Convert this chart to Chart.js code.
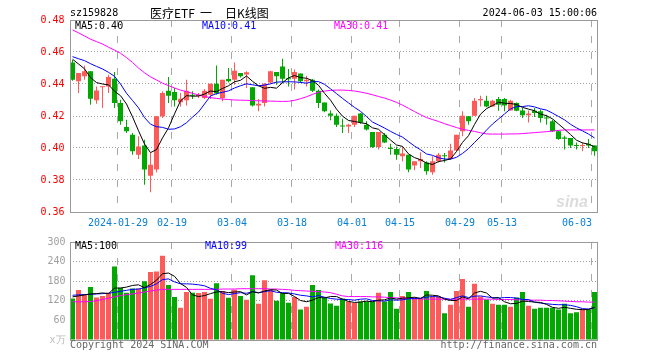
<!DOCTYPE html>
<html><head><meta charset="utf-8">
<script src="https://cdn.jsdelivr.net/npm/chart.js@4"></script>
<style>
html,body{margin:0;padding:0;background:#fff;}
#wrap{position:relative;width:660px;height:360px;overflow:hidden;font-family:'DejaVu Sans Mono',monospace;font-size:10px;}
canvas{position:absolute;left:0;}
.t{position:absolute;white-space:pre;line-height:12px;}
.cjk{font-family:'Noto Sans CJK SC',sans-serif;font-size:12px;line-height:14px;color:#000;}
</style></head><body>
<div id="wrap">
<canvas id="k" width="660" height="232" style="top:0;width:660px;height:232px"></canvas>
<canvas id="v" width="660" height="128" style="top:232px;width:660px;height:128px"></canvas>
<div class="t" style="left:70px;top:7px;color:#000">sz159828</div>
<div class="t cjk" style="left:150px;top:6px">医疗ETF</div>
<div class="t cjk" style="left:200px;top:6px">一</div>
<div class="t cjk" style="left:225px;top:6px">日K线图</div>
<div class="t" style="right:63px;top:7px;color:#000">2024-06-03 15:00:06</div>
<div class="t" style="left:75px;top:20px;color:#000">MA5:0.40</div>
<div class="t" style="left:202px;top:20px;color:#0000ff">MA10:0.41</div>
<div class="t" style="left:334px;top:20px;color:#ff00ff">MA30:0.41</div>
<div class="t" style="left:556px;top:193px;font:italic bold 16px 'Liberation Sans',sans-serif;color:#dcdcdc">sina</div>
<div class="t" style="left:75px;top:240px;color:#000">MA5:100</div>
<div class="t" style="left:205px;top:240px;color:#0000ff">MA10:99</div>
<div class="t" style="left:335px;top:240px;color:#ff00ff">MA30:116</div>
<div class="t" style="left:70px;top:339px;color:#666">Copyright 2024 SINA.COM</div>
<div class="t" style="right:63px;top:339px;color:#666">http://finance.sina.com.cn</div>
</div>
<script>
const dates = ['2024-01-17','2024-01-18','2024-01-19','2024-01-22','2024-01-23','2024-01-24','2024-01-25','2024-01-26','2024-01-29','2024-01-30','2024-01-31','2024-02-01','2024-02-02','2024-02-05','2024-02-06','2024-02-07','2024-02-08','2024-02-19','2024-02-20','2024-02-21','2024-02-22','2024-02-23','2024-02-26','2024-02-27','2024-02-28','2024-02-29','2024-03-01','2024-03-04','2024-03-05','2024-03-06','2024-03-07','2024-03-08','2024-03-11','2024-03-12','2024-03-13','2024-03-14','2024-03-15','2024-03-18','2024-03-19','2024-03-20','2024-03-21','2024-03-22','2024-03-25','2024-03-26','2024-03-27','2024-03-28','2024-03-29','2024-04-01','2024-04-02','2024-04-03','2024-04-08','2024-04-09','2024-04-10','2024-04-11','2024-04-12','2024-04-15','2024-04-16','2024-04-17','2024-04-18','2024-04-19','2024-04-22','2024-04-23','2024-04-24','2024-04-25','2024-04-26','2024-04-29','2024-04-30','2024-05-06','2024-05-07','2024-05-08','2024-05-09','2024-05-10','2024-05-13','2024-05-14','2024-05-15','2024-05-16','2024-05-17','2024-05-20','2024-05-21','2024-05-22','2024-05-23','2024-05-24','2024-05-27','2024-05-28','2024-05-29','2024-05-30','2024-05-31','2024-06-03'];

const tickDates = ['2024-01-29','2024-02-19','2024-03-04','2024-03-18','2024-04-01','2024-04-15','2024-04-29','2024-05-13','2024-06-03'];
const tickLabels = ['2024-01-29','02-19','03-04','03-18','04-01','04-15','04-29','05-13','06-03'];

const opens = [.4535,.4417,.4448,.4479,.4298,.4379,.4385,.4433,.4281,.4131,.4083,.3958,.4015,.3827,.3865,.4198,.4358,.4350,.4286,.4298,.4331,.4323,.4313,.4333,.4402,.4313,.4431,.4427,.4469,.4459,.4379,.4265,.4281,.4410,.4475,.4510,.4435,.4433,.4465,.4417,.4427,.4358,.4285,.4215,.4202,.4140,.4135,.4146,.4215,.4146,.4100,.4006,.4083,.4002,.3994,.3948,.3958,.3890,.3917,.3910,.3848,.3917,.3952,.3931,.3985,.4104,.4198,.4202,.4298,.4296,.4260,.4306,.4306,.4235,.4281,.4235,.4204,.4233,.4229,.4190,.4167,.4104,.4065,.4062,.4017,.4012,.4027,.4015];
const highs = [.4550,.4469,.4515,.4479,.4385,.4385,.4458,.4475,.4302,.4177,.4094,.4073,.4052,.3969,.4198,.4354,.4444,.4375,.4344,.4427,.4354,.4344,.4369,.4402,.4515,.4427,.4500,.4535,.4469,.4479,.4379,.4306,.4406,.4483,.4475,.4558,.4494,.4490,.4465,.4452,.4431,.4365,.4285,.4235,.4215,.4183,.4152,.4202,.4219,.4167,.4100,.4100,.4094,.4027,.4010,.4010,.3958,.3917,.3973,.3917,.3948,.3969,.3969,.4027,.4083,.4229,.4198,.4313,.4327,.4327,.4302,.4319,.4313,.4302,.4285,.4250,.4235,.4250,.4240,.4208,.4177,.4110,.4077,.4062,.4035,.4035,.4056,.4015];
const lows = [.4420,.4344,.4427,.4271,.4277,.4250,.4344,.4250,.4146,.4094,.3958,.3931,.3771,.3723,.3848,.4188,.4281,.4260,.4260,.4265,.4306,.4313,.4306,.4306,.4333,.4292,.4410,.4396,.4440,.4375,.4260,.4229,.4260,.4402,.4396,.4406,.4385,.4365,.4406,.4385,.4350,.4250,.4223,.4173,.4131,.4094,.4094,.4131,.4152,.4110,.4000,.3990,.4031,.3958,.3927,.3917,.3848,.3861,.3875,.3833,.3833,.3910,.3910,.3927,.3979,.4073,.4146,.4202,.4260,.4254,.4260,.4233,.4229,.4235,.4229,.4188,.4160,.4194,.4160,.4146,.4100,.4052,.3990,.4000,.3990,.3979,.4000,.3952];
const closes = [.4427,.4469,.4480,.4308,.4360,.4381,.4444,.4281,.4167,.4104,.3979,.4010,.3865,.3896,.4198,.4344,.4327,.4298,.4308,.4358,.4327,.4333,.4358,.4402,.4340,.4427,.4417,.4483,.4448,.4473,.4265,.4277,.4402,.4479,.4448,.4433,.4429,.4475,.4417,.4427,.4358,.4281,.4229,.4202,.4146,.4135,.4146,.4202,.4160,.4115,.4006,.4100,.4035,.3994,.3958,.3965,.3865,.3917,.3931,.3854,.3917,.3958,.3948,.3985,.4083,.4202,.4167,.4296,.4306,.4260,.4296,.4271,.4265,.4296,.4233,.4204,.4215,.4219,.4188,.4185,.4104,.4056,.4058,.4015,.4013,.4017,.4015,.3979];

const ma5 = [.4555,.4525,.4495,.4440,.4409,.4400,.4395,.4355,.4327,.4275,.4195,.4108,.4025,.3971,.3990,.4063,.4126,.4213,.4295,.4327,.4324,.4325,.4337,.4356,.4352,.4372,.4389,.4414,.4423,.4450,.4417,.4389,.4373,.4379,.4374,.4408,.4438,.4453,.4440,.4436,.4421,.4392,.4342,.4299,.4243,.4199,.4172,.4166,.4158,.4152,.4126,.4117,.4083,.4050,.4019,.4010,.3963,.3940,.3927,.3906,.3897,.3915,.3922,.3932,.3978,.4035,.4077,.4147,.4211,.4246,.4265,.4286,.4280,.4278,.4272,.4254,.4243,.4233,.4212,.4202,.4182,.4150,.4118,.4084,.4049,.4032,.4024,.4008];
const ma10 = [.4571,.4558,.4546,.4527,.4510,.4494,.4473,.4448,.4400,.4342,.4297,.4251,.4190,.4149,.4133,.4129,.4117,.4119,.4133,.4158,.4193,.4225,.4275,.4325,.4340,.4348,.4357,.4375,.4389,.4401,.4395,.4389,.4393,.4401,.4412,.4413,.4414,.4413,.4410,.4405,.4415,.4415,.4398,.4370,.4340,.4310,.4282,.4254,.4229,.4197,.4162,.4144,.4125,.4104,.4085,.4068,.4040,.4012,.3989,.3963,.3954,.3939,.3931,.3930,.3942,.3966,.3996,.4034,.4072,.4112,.4150,.4181,.4213,.4244,.4259,.4259,.4264,.4257,.4245,.4237,.4218,.4197,.4176,.4148,.4126,.4107,.4087,.4063];
const ma30 = [.4738,.4720,.4700,.4680,.4665,.4650,.4630,.4612,.4592,.4565,.4535,.4500,.4470,.4445,.4425,.4405,.4390,.4375,.4362,.4352,.4342,.4332,.4322,.4315,.4310,.4306,.4303,.4300,.4299,.4298,.4296,.4295,.4294,.4293,.4292,.4291,.4292,.4298,.4308,.4320,.4335,.4348,.4356,.4360,.4362,.4362,.4360,.4356,.4350,.4342,.4333,.4322,.4312,.4300,.4285,.4268,.4248,.4228,.4208,.4190,.4178,.4166,.4152,.4140,.4128,.4117,.4110,.4104,.4095,.4088,.4087,.4087,.4087,.4088,.4088,.4090,.4093,.4096,.4099,.4102,.4106,.4110,.4113,.4113,.4113,.4113,.4113,.4113];

const volumes = [127,153,140,162,130,135,145,225,160,145,158,158,180,208,210,258,168,132,99,147,145,144,147,126,174,150,129,154,135,123,198,111,183,153,120,144,114,132,93,102,168,153,129,112,105,127,118,113,118,118,118,145,118,147,96,135,147,130,127,150,133,133,82,108,150,187,102,172,133,124,111,108,108,102,130,147,105,96,99,99,99,93,111,82,85,93,93,147];
const vma5 = [132,135,138,141,142,144,142,159,159,162,167,169,160,170,183,203,205,195,173,161,138,133,136,142,147,148,145,147,148,138,148,144,150,154,153,142,143,133,121,117,122,130,129,133,133,125,118,115,116,119,117,122,123,129,125,128,129,131,127,138,137,135,125,121,121,132,126,144,149,144,128,130,117,111,112,119,118,116,115,109,100,97,100,97,94,93,93,100];
const vma10 = [137,138,139,140,141,142,143,146,149,152,155,156,160,164,172,185,187,178,172,172,171,169,166,158,154,143,139,142,145,143,148,145,148,151,146,145,144,141,137,135,132,136,131,127,125,124,124,122,125,126,121,120,119,123,122,123,126,127,128,131,133,132,128,124,130,135,130,134,135,132,130,128,130,130,128,124,124,116,113,111,109,108,108,106,102,96,95,99];
const vma30 = [117,117,117,118,120,124,128,132,136,139,141,144,147,150,153,155,155,155,155,155,155,155,155,155,155,156,156,156,157,157,157,157,157,156,156,155,154,152,151,150,149,148,147,145,140,135,133,133,133,133,132,132,131,130,129,128,127,126,126,125,125,125,125,125,125,125,125,125,125,125,125,124,124,124,123,123,122,122,122,121,121,120,119,118,117,117,116,116];

const RED = '#ff5a5a', GREEN = '#00a800';
const colorAt = c => (closes[c.dataIndex] >= opens[c.dataIndex] ? RED : GREEN);
const tickIdx = tickDates.map(d => dates.indexOf(d));
const isTick = c => { const i = (c.tick && typeof c.tick.value === 'number') ? c.tick.value : c.index; return tickIdx.indexOf(i) >= 0; };

Chart.defaults.font.family = "'DejaVu Sans Mono', monospace";
Chart.defaults.font.size = 10;

// outer frame of each plot area
const frame = {
  id: 'frame',
  afterDraw(ch) {
    const a = ch.chartArea, c = ch.ctx;
    const l = Math.round(a.left) + 0.5, t = Math.round(a.top) + 0.5;
    const r = Math.round(a.right) - 0.5, b = Math.round(a.bottom) + 0.5;
    c.save(); c.strokeStyle = '#9a9a9a'; c.lineWidth = 1; c.setLineDash([]);
    c.strokeRect(l, t, r - l, b - t); c.restore();
  }
};

// dashed date grid lines at the category boundaries, positioned by the x scale
const dateGrid = {
  id: 'dateGrid',
  beforeDatasetsDraw(ch) {
    const xs = ch.scales.x, a = ch.chartArea, c = ch.ctx;
    const half = (xs.getPixelForValue(1) - xs.getPixelForValue(0)) / 2;
    c.save(); c.strokeStyle = '#a8a8a8'; c.lineWidth = 1; c.setLineDash([7, 9]); c.lineDashOffset = 0;
    tickIdx.forEach(i => {
      const x = Math.round(xs.getPixelForValue(i) - half - 0.5) + 0.5;
      c.beginPath(); c.moveTo(x, a.top); c.lineTo(x, a.bottom); c.stroke();
    });
    c.restore();
  }
};

const lineDs = (data, color) => ({type: 'line', data, borderColor: color, borderWidth: 1, pointRadius: 0, pointHoverRadius: 0, tension: 0, fill: false, order: 0});
const makeXGrid = () => ({offset: true, color: c => (isTick(c) ? '#a8a8a8' : 'rgba(0,0,0,0)'), lineWidth: c => (isTick(c) ? 1 : 0), drawTicks: false, drawOnChartArea: true, display: true});

new Chart(document.getElementById('k'), {
  type: 'bar',
  data: {
    labels: dates,
    datasets: [
      lineDs(ma5, '#000000'),
      lineDs(ma10, '#0000ff'),
      lineDs(ma30, '#ff00ff'),
      {type: 'bar', data: opens.map((o, i) => [o, closes[i]]), backgroundColor: colorAt, borderWidth: 0, barThickness: 5, grouped: false, minBarLength: 1, inflateAmount: 0, order: 1},
      {type: 'bar', data: lows.map((l, i) => [l, highs[i]]), backgroundColor: colorAt, borderWidth: 0, barThickness: 1, grouped: false, inflateAmount: 0, order: 2}
    ]
  },
  options: {
    responsive: false, animation: false, devicePixelRatio: 1, events: [],
    layout: {padding: {left: 0, top: 20, right: 62.5, bottom: 0}},
    plugins: {legend: {display: false}, tooltip: {enabled: false}, title: {display: false}},
    scales: {
      x: {
        type: 'category', offset: true,
        grid: makeXGrid(),
        border: {display: false, dash: [7, 9]},
        ticks: {
          autoSkip: false, maxRotation: 0, minRotation: 0, color: '#0a80d0', padding: 5, labelOffset: -2.5,
          callback: (v, i) => { const k = tickIdx.indexOf(i); if (k < 0) return ''; return k === tickLabels.length - 1 ? tickLabels[k] + '     ' : tickLabels[k]; }
        },
        afterFit(s) { s.height = 20; }
      },
      y: {
        min: 0.36, max: 0.48,
        ticks: {stepSize: 0.02, color: '#ff0000', padding: 5, callback: v => Number(v).toFixed(2)},
        grid: {color: c => (c.tick && c.tick.value > 0.361 && c.tick.value < 0.479 ? '#a0a0a0' : 'rgba(0,0,0,0)'), drawTicks: false, lineWidth: 1},
        border: {display: false, dash: [1, 2]},
        afterFit(s) { s.width = 69.5; }
      }
    }
  },
  plugins: [dateGrid, frame]
});

new Chart(document.getElementById('v'), {
  type: 'bar',
  data: {
    labels: dates,
    datasets: [
      lineDs(vma5, '#000000'),
      lineDs(vma10, '#0000ff'),
      lineDs(vma30, '#ff00ff'),
      {type: 'bar', data: volumes, backgroundColor: colorAt, borderWidth: 0, barThickness: 5, grouped: false, inflateAmount: 0, order: 1}
    ]
  },
  options: {
    responsive: false, animation: false, devicePixelRatio: 1, events: [],
    layout: {padding: {left: 0, top: 8, right: 62.5, bottom: 20}},
    plugins: {legend: {display: false}, tooltip: {enabled: false}, title: {display: false}},
    scales: {
      x: {
        type: 'category', offset: true,
        grid: makeXGrid(),
        border: {display: false, dash: [7, 9]},
        ticks: {display: false, autoSkip: false},
        afterFit(s) { s.height = 0; }
      },
      y: {
        min: 0, max: 300,
        ticks: {stepSize: 60, color: c => (c.tick && c.tick.value === 0 ? '#bbbbbb' : '#a0a0a0'), padding: 4, callback: v => (v === 0 ? 'x万' : String(v))},
        grid: {color: c => (c.tick && c.tick.value > 1 && c.tick.value < 299 ? '#a0a0a0' : 'rgba(0,0,0,0)'), drawTicks: false, lineWidth: 1},
        border: {display: false, dash: [1, 2]},
        afterFit(s) { s.width = 69.5; }
      }
    }
  },
  plugins: [dateGrid, frame]
});
</script>
</body></html>
